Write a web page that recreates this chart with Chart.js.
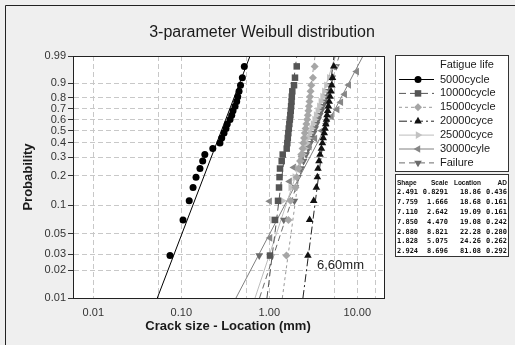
<!DOCTYPE html>
<html>
<head>
<meta charset="utf-8">
<script src="https://cdn.jsdelivr.net/npm/chart.js@4.4.0/dist/chart.umd.min.js"></script>
<style>
  html, body { margin: 0; padding: 0; background: #efefef; }
  #wrap { width: 515px; height: 345px; }
</style>
</head>
<body>
<div id="wrap"><canvas id="weibull-chart" width="515" height="345"></canvas></div>
<script>
// Probability axis ticks and x axis grid values
const probTicks = [0.01, 0.02, 0.03, 0.05, 0.1, 0.2, 0.3, 0.4, 0.5, 0.6, 0.7, 0.8, 0.9, 0.99];
const xGridValues = [0.01, 0.055, 0.1, 0.55, 1, 5.5, 10, 16];
const xTickLabels = { '0.01': '0.01', '0.1': '0.10', '1': '1.00', '10': '10.00' };

// Plotting positions (probability) of the ranked samples
const probs24 = [0.029, 0.070, 0.111, 0.152, 0.193, 0.234, 0.275, 0.316, 0.357, 0.398, 0.439, 0.480,
  0.520, 0.561, 0.602, 0.643, 0.684, 0.725, 0.766, 0.807, 0.848, 0.889, 0.930, 0.971];
const probs15 = [0.045, 0.110, 0.175, 0.240, 0.305, 0.370, 0.435, 0.500, 0.565, 0.630, 0.695, 0.760,
  0.825, 0.890, 0.955];

// Crack size - location (mm) for each group
const seriesNames = ['5000cycle', '10000cycle', '15000cycle', '20000cyce', '25000cyce', '30000cyle', 'Failure'];
const crack5000 = [0.0744, 0.1046, 0.123, 0.136, 0.147, 0.163, 0.175, 0.185, 0.228, 0.275, 0.288, 0.306,
  0.322, 0.333, 0.358, 0.374, 0.387, 0.408, 0.426, 0.438, 0.453, 0.471, 0.494, 0.520];
const crack10000 = [1.018, 1.161, 1.256, 1.289, 1.306, 1.323, 1.383, 1.420, 1.576, 1.601, 1.622, 1.644,
  1.665, 1.688, 1.711, 1.733, 1.751, 1.769, 1.788, 1.802, 1.825, 1.909, 1.958, 2.049];
const crack15000 = [1.566, 1.650, 1.740, 1.985, 2.055, 2.147, 2.236, 2.308, 2.388, 2.432, 2.483, 2.531,
  2.585, 2.639, 2.688, 2.738, 2.782, 2.821, 2.861, 2.901, 2.943, 3.000, 3.131, 3.276];
const crack20000 = [2.746, 2.871, 3.194, 3.425, 3.517, 3.573, 3.668, 3.767, 3.909, 4.013, 4.099, 4.209,
  4.299, 4.380, 4.462, 4.533, 4.617, 4.694, 4.795, 4.900, 5.031, 5.125, 5.219, 5.403];
const crack25000 = [1.04, 1.09, 1.41, 1.75, 1.95, 2.10, 2.25, 2.40, 2.52, 2.65, 2.78, 2.90,
  3.02, 3.14, 3.27, 3.40, 3.55, 3.70, 3.85, 4.02, 4.22, 4.45, 4.80, 5.50];
const crack30000 = [1.02, 1.01, 1.70, 1.90, 2.35, 2.85, 3.30, 3.95, 4.45, 5.10, 5.90, 6.50, 7.20, 8.00, 9.85];
const crackFailure = [0.768, 1.46, 1.93, 1.98, 2.12, 2.30, 2.45, 2.62, 2.78, 2.92, 3.05, 3.18,
  3.32, 3.45, 3.60, 3.75, 3.90, 4.05, 4.25, 4.45, 4.65, 4.90, 5.20, 5.75];

// Fitted lines: crack size at P = 0.01 and at P = 0.99
const fitLow = [0.0534, 0.94, 1.405, 2.41, 0.688, 0.418, 0.774];
const fitHigh = [0.604, 2.05, 3.31, 5.44, 5.66, 11.6, 6.23];

// Parameter table
const tableHeader = ['Shape', 'Scale', 'Location', 'AD'];
const tableShape = ['2.491', '7.759', '7.110', '7.850', '2.880', '1.828', '2.924'];
const tableScale = ['0.8291', '1.666', '2.642', '4.470', '8.821', '5.075', '8.696'];
const tableLocation = ['18.86', '18.68', '19.09', '19.08', '22.28', '24.26', '81.08'];
const tableAD = ['0.436', '0.161', '0.161', '0.242', '0.280', '0.262', '0.292'];

// Styles per series
const SERIES_STYLE = [
  { color: '#000000', line: '#000000', dash: [], point: 'circle', rotation: 0, radius: 3.5 },
  { color: '#555555', line: '#555555', dash: [7, 4], point: 'rect', rotation: 0, radius: 4.6 },
  { color: '#a6a6a6', line: '#9a9a9a', dash: [3, 3], point: 'rectRot', rotation: 0, radius: 4.0 },
  { color: '#111111', line: '#222222', dash: [8, 3, 2, 3], point: 'triangle', rotation: 0, radius: 4.4 },
  { color: '#c2c2c2', line: '#bdbdbd', dash: [], point: 'triangle', rotation: 90, radius: 4.4 },
  { color: '#868686', line: '#808080', dash: [], point: 'triangle', rotation: -90, radius: 4.4 },
  { color: '#6b6b6b', line: '#6b6b6b', dash: [6, 4], point: 'triangle', rotation: 180, radius: 4.4 }
];

const FONT = "'Liberation Sans', Arial, sans-serif";
const MONO = "'DejaVu Sans Mono', monospace";

// Weibull probability transform
const weib = p => Math.log(-Math.log(1 - p));

const seriesValues = [crack5000, crack10000, crack15000, crack20000, crack25000, crack30000, crackFailure];
const seriesProbs = [probs24, probs24, probs24, probs24, probs24, probs15, probs24];

/**
 * Build point and fit line datasets
 */
function buildDatasets() {
  const pointSets = seriesValues.map((vals, s) => {
    const st = SERIES_STYLE[s];
    return {
      label: seriesNames[s],
      data: vals.map((x, i) => ({ x: x, y: weib(seriesProbs[s][i]) })),
      showLine: false,
      pointStyle: st.point,
      rotation: st.rotation,
      radius: st.radius,
      backgroundColor: st.color,
      borderColor: st.color,
      borderWidth: 0
    };
  });
  const lineSets = fitLow.map((lo, s) => {
    const st = SERIES_STYLE[s];
    return {
      label: seriesNames[s] + ' fit',
      data: [{ x: lo, y: weib(0.01) }, { x: fitHigh[s], y: weib(0.99) }],
      showLine: true,
      pointRadius: 0,
      borderColor: st.line,
      borderWidth: 1,
      borderDash: st.dash
    };
  });
  return pointSets.concat(lineSets);
}

// Background, frame, titles, legend and table
const decorPlugin = {
  id: 'decor',
  beforeDraw(chart) {
    const ctx = chart.ctx;
    const a = chart.chartArea;
    ctx.save();
    ctx.fillStyle = '#efefef';
    ctx.fillRect(0, 0, chart.width, chart.height);
    ctx.strokeStyle = '#222';
    ctx.lineWidth = 1;
    ctx.beginPath();
    ctx.moveTo(5.5, chart.height);
    ctx.lineTo(5.5, 5.5);
    ctx.lineTo(chart.width, 5.5);
    ctx.stroke();
    ctx.fillStyle = '#ffffff';
    ctx.fillRect(a.left, a.top, a.right - a.left, a.bottom - a.top);
    ctx.restore();
  },
  afterDraw(chart) {
    const ctx = chart.ctx;
    const a = chart.chartArea;
    ctx.save();
    // plot frame
    ctx.strokeStyle = '#222';
    ctx.lineWidth = 1;
    ctx.strokeRect(Math.round(a.left) + 0.5, Math.round(a.top) + 0.5,
      Math.round(a.right - a.left), Math.round(a.bottom - a.top));

    // titles
    ctx.fillStyle = '#1a1a1a';
    ctx.textAlign = 'center';
    ctx.textBaseline = 'middle';
    ctx.font = '16px ' + FONT;
    ctx.fillText('3-parameter Weibull distribution', 262, 33);
    ctx.font = 'bold 13px ' + FONT;
    ctx.fillText('Crack size - Location (mm)', 228, 326);
    ctx.save();
    ctx.translate(28, 177);
    ctx.rotate(-Math.PI / 2);
    ctx.fillText('Probability', 0, 0);
    ctx.restore();

    // annotation
    ctx.font = '13px ' + FONT;
    ctx.textAlign = 'left';
    ctx.fillStyle = '#222';
    ctx.fillText('6,60mm', 317, 265);

    // legend box
    ctx.fillStyle = '#ffffff';
    ctx.fillRect(396, 56, 113, 116);
    ctx.strokeStyle = '#333';
    ctx.strokeRect(395.5, 55.5, 113, 116);
    ctx.fillStyle = '#1a1a1a';
    ctx.font = '11px ' + FONT;
    ctx.fillText('Fatigue life', 440, 64.5);
    seriesNames.forEach((name, s) => {
      const st = SERIES_STYLE[s];
      const y = 79.5 + s * 13.9;
      ctx.save();
      ctx.strokeStyle = st.line;
      ctx.lineWidth = 1;
      ctx.setLineDash(st.dash);
      ctx.beginPath();
      ctx.moveTo(399, y);
      ctx.lineTo(434, y);
      ctx.stroke();
      ctx.restore();
      ctx.fillStyle = st.color;
      Chart.helpers.drawPoint(ctx, {
        pointStyle: st.point, rotation: st.rotation, radius: st.radius, borderWidth: 0
      }, 418, y);
      ctx.fillStyle = '#1a1a1a';
      ctx.fillText(name, 440, y);
    });

    // parameter table
    ctx.fillStyle = '#ffffff';
    ctx.fillRect(396, 175, 113, 82);
    ctx.strokeStyle = '#333';
    ctx.strokeRect(395.5, 174.5, 113, 82);
    ctx.fillStyle = '#111';
    const colX = [397, 448, 481, 507];
    const colAlign = ['left', 'right', 'right', 'right'];
    ctx.font = 'bold 6.5px ' + FONT;
    tableHeader.forEach((h, c) => {
      ctx.textAlign = colAlign[c];
      ctx.fillText(h, colX[c], 183.5);
    });
    ctx.font = 'bold 7px ' + MONO;
    tableShape.forEach((v, r) => {
      const y = 192.5 + r * 9.8;
      const row = [v, tableScale[r], tableLocation[r], tableAD[r]];
      row.forEach((t, c) => {
        ctx.textAlign = colAlign[c];
        ctx.fillText(t, colX[c], y);
      });
    });
    ctx.restore();
  }
};

/**
 * Initialize the probability plot
 */
function initWeibullChart() {
  const ctx = document.getElementById('weibull-chart');
  return new Chart(ctx, {
    type: 'scatter',
    data: { datasets: buildDatasets() },
    options: {
      responsive: false,
      animation: false,
      devicePixelRatio: 1,
      layout: { padding: { top: 56, right: 131, left: 0, bottom: 0 } },
      plugins: {
        legend: { display: false },
        tooltip: { enabled: false },
        title: { display: false }
      },
      scales: {
        x: {
          type: 'logarithmic',
          min: 0.00588,
          max: 20.1,
          afterBuildTicks: scale => { scale.ticks = xGridValues.map(v => ({ value: v })); },
          afterFit: scale => { scale.height = 47; },
          ticks: {
            autoSkip: false,
            maxRotation: 0,
            padding: 8,
            color: '#333',
            font: { family: FONT, size: 11 },
            callback: value => xTickLabels[String(value)] || ''
          },
          grid: { color: '#c8c8c8', lineWidth: 1, drawTicks: false },
          border: { display: true, color: '#222', dash: [5, 3] }
        },
        y: {
          type: 'linear',
          min: weib(0.01),
          max: weib(0.99),
          afterBuildTicks: scale => { scale.ticks = probTicks.map(p => ({ value: weib(p) })); },
          afterFit: scale => { scale.width = 73; },
          ticks: {
            autoSkip: false,
            padding: 2,
            color: '#333',
            font: { family: FONT, size: 11 },
            callback: (value, index) => String(probTicks[index])
          },
          grid: { color: '#c8c8c8', lineWidth: 1, tickLength: 5, tickColor: '#333', tickBorderDash: [] },
          border: { display: true, color: '#222', dash: [5, 3] }
        }
      }
    },
    plugins: [decorPlugin]
  });
}

initWeibullChart();
</script>
</body>
</html>
